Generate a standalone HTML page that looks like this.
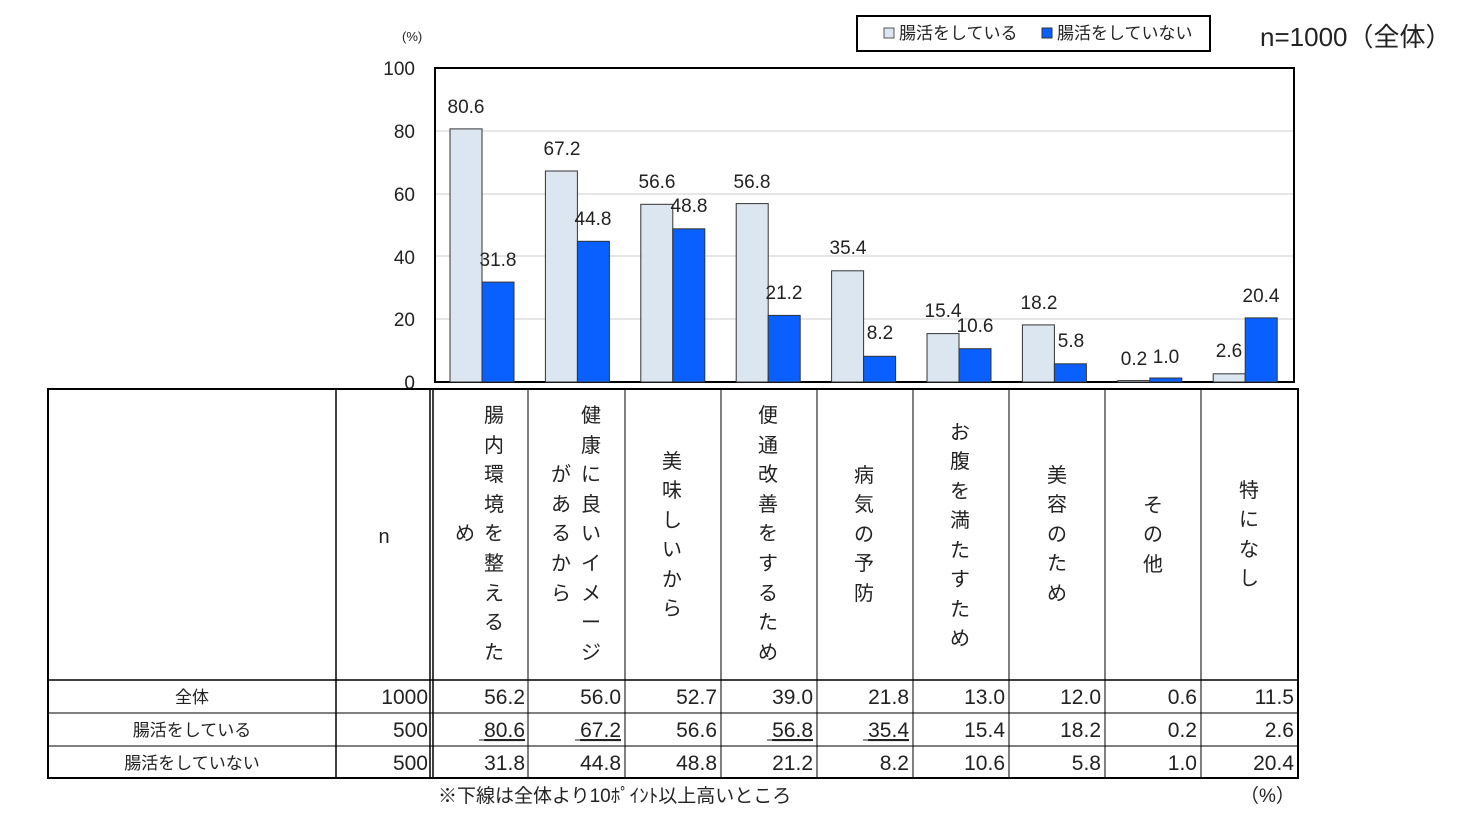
<!DOCTYPE html><html><head><meta charset="utf-8"><style>body{margin:0;background:#fff}svg{display:block}text{font-family:"Liberation Sans","Noto Sans CJK JP",sans-serif;fill:#222}</style></head><body>
<svg width="1463" height="818" viewBox="0 0 1463 818">
<text x="402" y="41" font-size="13">(%)</text>
<g font-size="19" text-anchor="end"><text x="415" y="75">100</text><text x="415" y="138">80</text><text x="415" y="201">60</text><text x="415" y="264">40</text><text x="415" y="326">20</text><text x="415" y="389">0</text></g>
<g stroke="#ddd" stroke-width="1.5"><line x1="435" y1="131" x2="1294" y2="131"/><line x1="435" y1="194" x2="1294" y2="194"/><line x1="435" y1="256" x2="1294" y2="256"/><line x1="435" y1="319" x2="1294" y2="319"/></g>
<rect x="435" y="68" width="859" height="314" fill="none" stroke="#000" stroke-width="2"/>
<g fill="#dce6f0" stroke="#333" stroke-width="1">
<rect x="450" y="128.9" width="32" height="253.1"/><rect x="545.4" y="171" width="32" height="211"/><rect x="640.8" y="204.3" width="32" height="177.7"/><rect x="736.2" y="203.6" width="32" height="178.4"/><rect x="831.6" y="270.8" width="32" height="111.2"/><rect x="927" y="333.6" width="32" height="48.4"/><rect x="1022.4" y="324.9" width="32" height="57.1"/><rect x="1117.8" y="380.6" width="32" height="1.4"/><rect x="1213.2" y="373.8" width="32" height="8.2"/></g>
<g fill="#0a5fff" stroke="#333" stroke-width="1">
<rect x="482" y="282.1" width="32" height="99.9"/><rect x="577.4" y="241.3" width="32" height="140.7"/><rect x="672.8" y="228.8" width="32" height="153.2"/><rect x="768.2" y="315.4" width="32" height="66.6"/><rect x="863.6" y="356.3" width="32" height="25.7"/><rect x="959" y="348.7" width="32" height="33.3"/><rect x="1054.4" y="363.8" width="32" height="18.2"/><rect x="1149.8" y="378" width="32" height="4"/><rect x="1245.2" y="317.9" width="32" height="64.1"/></g>
<g font-size="19" text-anchor="middle">
<text x="466" y="113">80.6</text><text x="498" y="266">31.8</text><text x="562" y="155">67.2</text><text x="593" y="225">44.8</text><text x="657" y="188">56.6</text><text x="689" y="212">48.8</text><text x="752" y="188">56.8</text><text x="784" y="299">21.2</text><text x="848" y="254">35.4</text><text x="880" y="339">8.2</text><text x="943" y="317">15.4</text><text x="975" y="332">10.6</text><text x="1039" y="309">18.2</text><text x="1071" y="347">5.8</text><text x="1134" y="365">0.2</text><text x="1166" y="363">1.0</text><text x="1229" y="357">2.6</text><text x="1261" y="302">20.4</text></g>
<rect x="857" y="16" width="353" height="35" fill="#fff" stroke="#000" stroke-width="2"/>
<rect x="884" y="28" width="10" height="10" fill="#dce6f0" stroke="#555"/><text x="899" y="39" font-size="17">腸活をしている</text>
<rect x="1042" y="28" width="10" height="10" fill="#0a5fff" stroke="#333"/><text x="1057" y="39" font-size="17">腸活をしていない</text>
<text x="1260" y="46" font-size="26">n=1000（全体）</text>
<g stroke="#000" fill="none"><rect x="48" y="389" width="1250" height="389" stroke-width="2"/>
<line x1="336" y1="389" x2="336" y2="778" stroke-width="1.5"/><line x1="430" y1="389" x2="430" y2="778" stroke-width="1.5"/><line x1="433" y1="389" x2="433" y2="778" stroke-width="1.5"/>
<line x1="528" y1="389" x2="528" y2="778"/><line x1="625" y1="389" x2="625" y2="778"/><line x1="721" y1="389" x2="721" y2="778"/><line x1="817" y1="389" x2="817" y2="778"/><line x1="913" y1="389" x2="913" y2="778"/><line x1="1009" y1="389" x2="1009" y2="778"/><line x1="1105" y1="389" x2="1105" y2="778"/><line x1="1201" y1="389" x2="1201" y2="778"/>
<line x1="48" y1="680" x2="1298" y2="680" stroke-width="1.5"/><line x1="48" y1="713" x2="1298" y2="713"/><line x1="48" y1="746" x2="1298" y2="746"/></g>
<text x="384" y="543" font-size="20" text-anchor="middle">n</text>
<g font-size="20" text-anchor="middle">
<text x="494" y="422">腸</text><text x="494" y="452">内</text><text x="494" y="481">環</text><text x="494" y="511">境</text><text x="494" y="540">を</text><text x="494" y="570">整</text><text x="494" y="600">え</text><text x="494" y="629">る</text><text x="494" y="659">た</text><text x="465" y="540">め</text>
<text x="591" y="422">健</text><text x="591" y="452">康</text><text x="591" y="481">に</text><text x="591" y="511">良</text><text x="591" y="540">い</text><text x="591" y="570">イ</text><text x="591" y="600">メ</text><text x="591" y="629">ー</text><text x="591" y="659">ジ</text>
<text x="561" y="481">が</text><text x="561" y="511">あ</text><text x="561" y="540">る</text><text x="561" y="570">か</text><text x="561" y="600">ら</text>
<text x="672" y="468">美</text><text x="672" y="497">味</text><text x="672" y="527">し</text><text x="672" y="556">い</text><text x="672" y="586">か</text><text x="672" y="615">ら</text>
<text x="768" y="422">便</text><text x="768" y="452">通</text><text x="768" y="481">改</text><text x="768" y="511">善</text><text x="768" y="540">を</text><text x="768" y="570">す</text><text x="768" y="600">る</text><text x="768" y="629">た</text><text x="768" y="659">め</text>
<text x="864" y="482">病</text><text x="864" y="511">気</text><text x="864" y="541">の</text><text x="864" y="570">予</text><text x="864" y="600">防</text>
<text x="960" y="439">お</text><text x="960" y="468">腹</text><text x="960" y="498">を</text><text x="960" y="527">満</text><text x="960" y="557">た</text><text x="960" y="586">す</text><text x="960" y="616">た</text><text x="960" y="645">め</text>
<text x="1057" y="482">美</text><text x="1057" y="511">容</text><text x="1057" y="541">の</text><text x="1057" y="570">た</text><text x="1057" y="600">め</text>
<text x="1153" y="512">そ</text><text x="1153" y="541">の</text><text x="1153" y="571">他</text>
<text x="1249" y="497">特</text><text x="1249" y="526">に</text><text x="1249" y="556">な</text><text x="1249" y="585">し</text></g>
<g font-size="17" text-anchor="middle"><text x="192" y="703">全体</text><text x="192" y="736">腸活をしている</text><text x="192" y="769">腸活をしていない</text></g>
<g font-size="21" text-anchor="end">
<text x="428" y="704">1000</text><text x="525" y="704">56.2</text><text x="621" y="704">56.0</text><text x="717" y="704">52.7</text><text x="813" y="704">39.0</text><text x="909" y="704">21.8</text><text x="1005" y="704">13.0</text><text x="1101" y="704">12.0</text><text x="1197" y="704">0.6</text><text x="1294" y="704">11.5</text>
<text x="428" y="737">500</text><text x="525" y="737" text-decoration="underline">80.6</text><text x="621" y="737" text-decoration="underline">67.2</text><text x="717" y="737">56.6</text><text x="813" y="737" text-decoration="underline">56.8</text><text x="909" y="737" text-decoration="underline">35.4</text><text x="1005" y="737">15.4</text><text x="1101" y="737">18.2</text><text x="1197" y="737">0.2</text><text x="1294" y="737">2.6</text>
<text x="428" y="770">500</text><text x="525" y="770">31.8</text><text x="621" y="770">44.8</text><text x="717" y="770">48.8</text><text x="813" y="770">21.2</text><text x="909" y="770">8.2</text><text x="1005" y="770">10.6</text><text x="1101" y="770">5.8</text><text x="1197" y="770">1.0</text><text x="1294" y="770">20.4</text></g>
<g stroke="#222" stroke-width="1"><line x1="479" y1="740" x2="525" y2="740"/><line x1="575" y1="740" x2="621" y2="740"/><line x1="767" y1="740" x2="813" y2="740"/><line x1="863" y1="740" x2="909" y2="740"/></g>
<text x="438" y="802" font-size="19">※下線は全体より10ﾎﾟｲﾝﾄ以上高いところ</text>
<text x="1240" y="802" font-size="19">（%）</text>
</svg></body></html>
